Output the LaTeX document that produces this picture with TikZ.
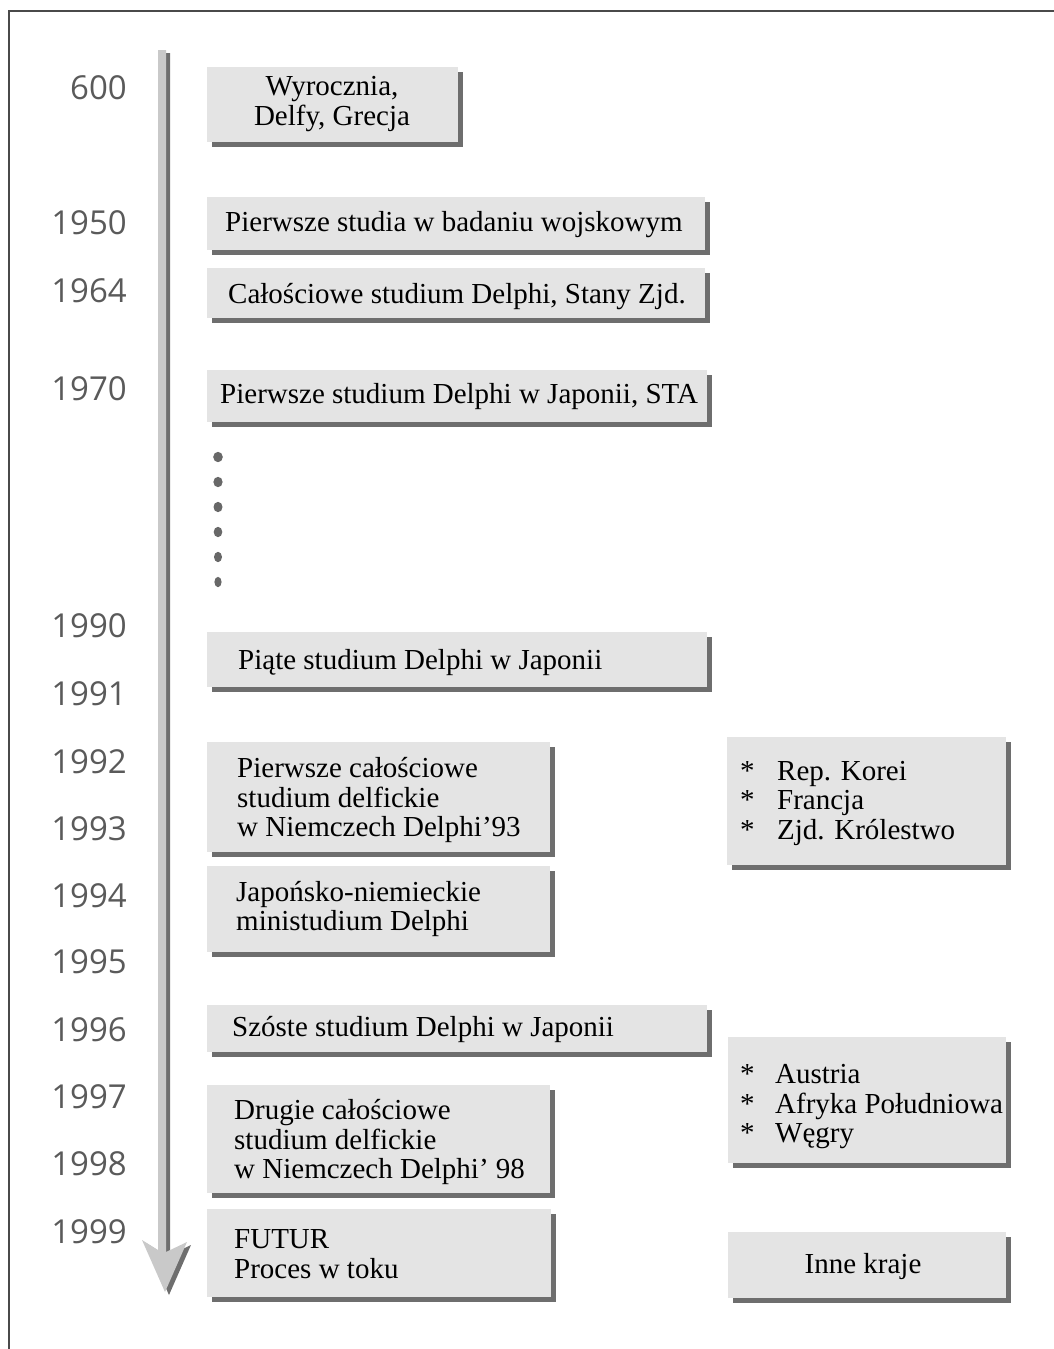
\documentclass[tikz,border=0pt]{standalone}
\usepackage{fontspec}
\setmainfont{Liberation Serif}
\newfontfamily\yearfont{Open Sans}

\definecolor{boxfill}{HTML}{E4E4E4}
\definecolor{boxshade}{HTML}{6E6E6E}
\definecolor{shaftlight}{HTML}{C9C9C9}
\definecolor{yeargray}{HTML}{5A5A5A}
\definecolor{framegray}{HTML}{4A4A4A}
\definecolor{dotgray}{HTML}{686868}

\tikzset{
  yearlabel/.style={anchor=east, inner sep=0pt, text=yeargray,
    font=\yearfont\fontsize{33}{33}\selectfont},
  boxtext/.style={anchor=west, inner sep=0pt, align=left,
    font=\fontsize{29}{29.5}\selectfont},
  panel/.style={fill=boxfill, draw=none, inner sep=0pt, anchor=north west},
  panelshade/.style={fill=boxshade, draw=none, inner sep=0pt, anchor=north west},
}

% grey panel with a drop shadow: name, x1, y1, x2, y2 (top-left / bottom-right)
\newcommand\panelbox[5]{%
  \node[panelshade, minimum width=#4pt-#2pt, minimum height=#5pt-#3pt]
    (#1-shade) at (#2+5,#3+5) {};
  \node[panel, minimum width=#4pt-#2pt, minimum height=#5pt-#3pt]
    (#1) at (#2,#3) {};
}

\begin{document}
\begin{tikzpicture}[x=1pt, y=-1pt]
  \useasboundingbox (0,0) rectangle (1054,1349);

  % frame
  \draw[framegray, line width=2pt] (9,1349) -- (9,11) -- (1054,11);

  % time axis arrow with its shadow
  \def\axisarrow{(158,50) -- (158,1250) -- (142,1240) -- (165,1292)
    -- (187,1242) -- (166,1252) -- (166,50) -- cycle}
  \fill[boxshade, shift={(4,3)}] \axisarrow;
  \fill[shaftlight] \axisarrow;

  % years
  \node[yearlabel] (y600)  at (127,88)   {600};
  \node[yearlabel] (y1950) at (127,223)  {1950};
  \node[yearlabel] (y1964) at (127,291)  {1964};
  \node[yearlabel] (y1970) at (127,389)  {1970};
  \node[yearlabel] (y1990) at (127,626)  {1990};
  \node[yearlabel] (y1991) at (127,694)  {1991};
  \node[yearlabel] (y1992) at (127,762)  {1992};
  \node[yearlabel] (y1993) at (127,829)  {1993};
  \node[yearlabel] (y1994) at (127,896)  {1994};
  \node[yearlabel] (y1995) at (127,962)  {1995};
  \node[yearlabel] (y1996) at (127,1030) {1996};
  \node[yearlabel] (y1997) at (127,1097) {1997};
  \node[yearlabel] (y1998) at (127,1164) {1998};
  \node[yearlabel] (y1999) at (127,1232) {1999};

  % panels
  \panelbox{p1}{207}{67}{458}{142}
  \panelbox{p2}{207}{197}{705}{250}
  \panelbox{p3}{207}{268}{705}{318}
  \panelbox{p4}{207}{370}{707}{422}
  \panelbox{p5}{207}{632}{707}{687}
  \panelbox{p6}{207}{742}{550}{852}
  \panelbox{p7}{207}{866}{550}{952}
  \panelbox{p8}{207}{1005}{707}{1052}
  \panelbox{p9}{207}{1085}{550}{1193}
  \panelbox{p10}{207}{1209}{551}{1297}
  \panelbox{q1}{727}{737}{1006}{865}
  \panelbox{q2}{728}{1037}{1006}{1163}
  \panelbox{q3}{728}{1232}{1006}{1298}

  % panel texts
  \node[boxtext, anchor=center, align=center] (t1) at (332,104) {Wyrocznia,\\Delfy, Grecja};
  \node[boxtext] (t2) at (225,225) {Pierwsze studia w badaniu wojskowym};
  \node[boxtext] (t3) at (228,297) {Całościowe studium Delphi, Stany Zjd.};
  \node[boxtext] (t4) at (220,397) {Pierwsze studium Delphi w Japonii, STA};
  \node[boxtext] (t5) at (238,663) {Piąte studium Delphi w Japonii};
  \node[boxtext] (t6) at (237,800) {Pierwsze całościowe\\studium delfickie\\w Niemczech Delphi’93};
  \node[boxtext] (t7) at (236,909) {Japońsko-niemieckie\\ministudium Delphi};
  \node[boxtext] (t8) at (232,1029) {Szóste studium Delphi w Japonii};
  \node[boxtext] (t9) at (234,1142) {Drugie całościowe\\studium delfickie\\w Niemczech Delphi’ 98};
  \node[boxtext] (t10) at (234,1254) {FUTUR\\Proces w toku};
  \node[boxtext] (s1) at (740,803)
    {\makebox[37pt][l]{*}Rep. Korei\\\makebox[37pt][l]{*}Francja\\\makebox[37pt][l]{*}Zjd. Królestwo};
  \node[boxtext] (s2) at (740,1107)
    {\makebox[35pt][l]{*}Austria\\\makebox[35pt][l]{*}Afryka Południowa\\\makebox[35pt][l]{*}Węgry};
  \node[boxtext, anchor=center] (s3) at (863,1267) {Inne kraje};

  % omitted years
  \foreach \yy/\rx in {457/4.8, 482/4.6, 507/4.5, 532/4.3, 557/4, 582/3.6}
    \fill[dotgray] (218,\yy) ellipse [x radius=\rx pt, y radius=5.2pt];
\end{tikzpicture}
\end{document}
